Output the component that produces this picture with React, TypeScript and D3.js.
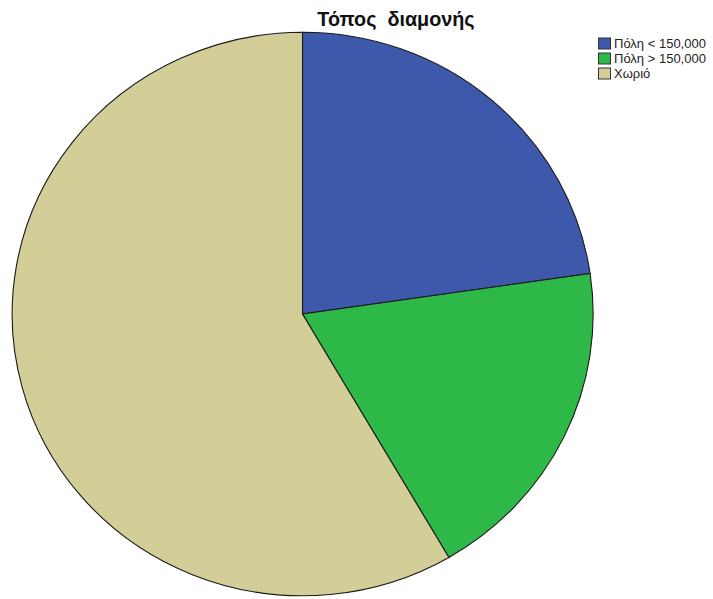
import React from "react";
import * as d3 from "d3";

const categories = ["Πόλη < 150,000", "Πόλη > 150,000", "Χωριό"];
const values = [22.7, 18.9, 58.4];
const colors = ["#3E58AC", "#2EB848", "#D3CE97"];
const title = "Τόπος  διαμονής";

export default function App() {
  const W = 713, H = 599;
  const cx = 302.5, cy = 314, rx = 290.5, ry = 281.75;
  const pie = d3.pie<number>().sort(null).value((d) => d);
  const arcs = pie(values);
  const arcGen = d3.arc<d3.PieArcDatum<number>>().innerRadius(0).outerRadius(1);
  const legendY = d3.scaleBand<string>().domain(categories).range([37, 82]);
  return (
    <div style={{ position: "absolute", left: 0, top: 0 }}>
      <svg width={W} height={H} style={{ display: "block", background: "#fff", fontFamily: "Arial, 'Liberation Sans', sans-serif" }}>
        <text x={396} y={25.5} textAnchor="middle" fontSize={19.8} fontWeight="bold" fill="#111" style={{ whiteSpace: "pre" }}>{title}</text>
        <g transform={`translate(${cx},${cy}) scale(${rx},${ry})`}>
          {arcs.map((a, i) => (
            <path key={i} d={arcGen(a) || ""} fill={colors[i]} stroke="#1a1a1a" strokeWidth={1.1} vectorEffect="non-scaling-stroke" />
          ))}
        </g>
        {categories.map((c, i) => {
          const y = legendY(c)!;
          return (
            <g key={c}>
              <rect x={598.5} y={y + 1} width={12} height={11} fill={colors[i]} stroke="#333" strokeWidth={1} />
              <text x={614} y={y + 11} fontSize={13} fill="#222">{c}</text>
            </g>
          );
        })}
      </svg>
    </div>
  );
}
